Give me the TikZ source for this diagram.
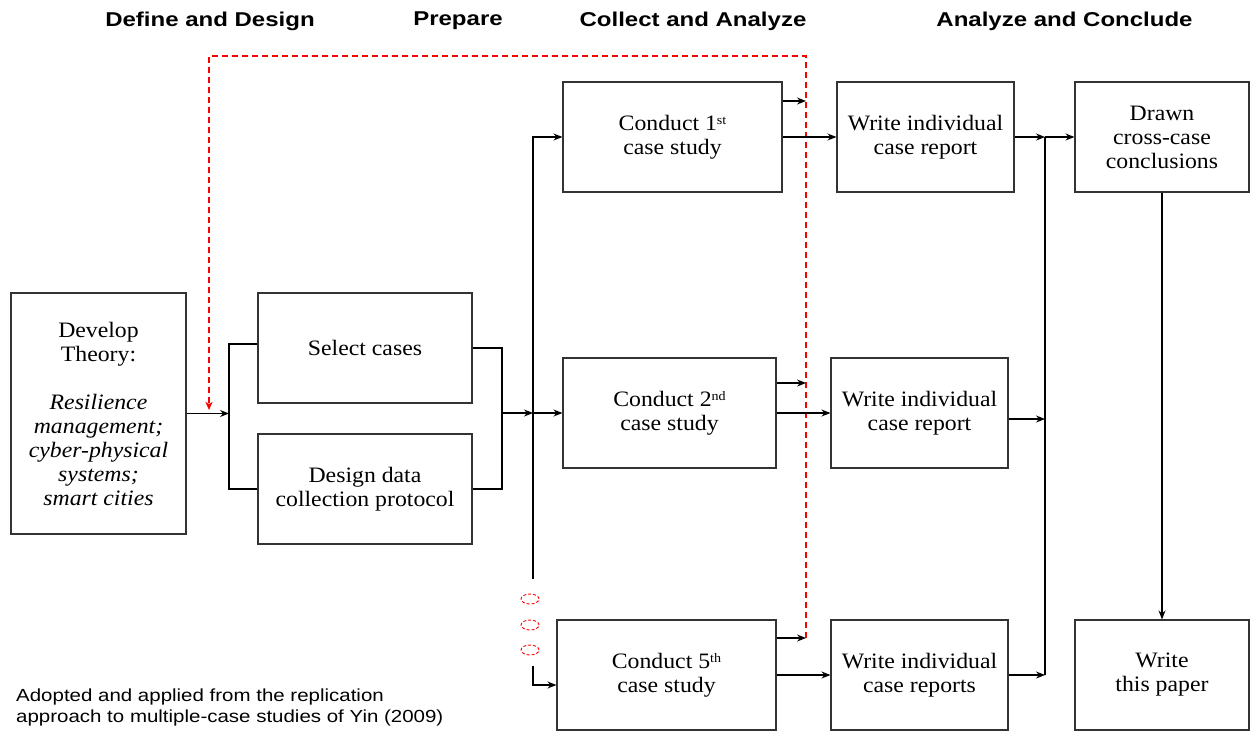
\documentclass[tikz,border=0pt]{standalone}
\usepackage{fontspec}
\setmainfont{Liberation Serif}[FakeStretch=1.08]
\newfontfamily\headfont{Liberation Sans}[FakeStretch=1.2]
\newfontfamily\footfont{Liberation Sans}[FakeStretch=1.17]
\usetikzlibrary{arrows.meta,shapes.geometric}
\newcommand{\supx}[1]{\raisebox{6pt}{\fontsize{13}{13}\selectfont #1}}
\tikzset{
  box/.style={draw=black!80, line width=1.1pt, align=center, inner sep=2pt,
    font=\fontsize{22}{24}\selectfont},
  conn/.style={line width=1.2pt, black},
  arr/.style={conn, -{Stealth[length=9pt,width=7pt,inset=3pt]}},
  reddash/.style={red, line width=1.6pt, dash pattern=on 6pt off 4pt},
  head/.style={font=\headfont\bfseries\fontsize{20}{22}\selectfont},
  dots/.style={ellipse, draw=red, dash pattern=on 3pt off 2pt, line width=0.9pt,
    minimum width=18pt, minimum height=10pt, inner sep=0pt}
}
\begin{document}
\begin{tikzpicture}[x=1pt,y=-1pt]
\useasboundingbox (0,0) rectangle (1250,731);
% headers
\node[head] (h1) at (210,21) {Define and Design};
\node[head] (h2) at (458,21) {Prepare};
\node[head] (h3) at (693,21) {Collect and Analyze};
\node[head] (h4) at (1064.5,21) {Analyze and Conclude};
% boxes
\node[box, minimum width=175pt, minimum height=241pt] (dev) at (98.5,413.5)
  {Develop\\Theory:\\[24pt]\textit{Resilience}\\\textit{management;}\\\textit{cyber-physical}\\\textit{systems;}\\\textit{smart cities}};
\node[box, minimum width=214pt, minimum height=110pt] (sel) at (365,348) {Select cases};
\node[box, minimum width=214pt, minimum height=110pt] (des) at (365,489) {Design data\\collection protocol};
\node[box, minimum width=219pt, minimum height=110pt] (c1) at (672.5,137) {Conduct 1\supx{st}\\case study};
\node[box, minimum width=213pt, minimum height=110pt] (c2) at (669.5,413) {Conduct 2\supx{nd}\\case study};
\node[box, minimum width=219pt, minimum height=110pt] (c5) at (666.5,675) {Conduct 5\supx{th}\\case study};
\node[box, minimum width=177pt, minimum height=110pt] (w1) at (925.5,137) {Write individual\\case report};
\node[box, minimum width=177pt, minimum height=110pt] (w2) at (919.5,413) {Write individual\\case report};
\node[box, minimum width=177pt, minimum height=110pt] (w5) at (919.5,675) {Write individual\\case reports};
\node[box, minimum width=174pt, minimum height=110pt] (dr) at (1162,137) {Drawn\\cross-case\\conclusions};
\node[box, minimum width=174pt, minimum height=110pt] (wp) at (1162,675) {Write\\this paper};
% footnote
\node[anchor=west, align=left, inner sep=0pt, font=\footfont\fontsize{17.5}{21}\selectfont] (fn) at (16,707.5)
  {Adopted and applied from the replication\\approach to multiple-case  studies of Yin (2009)};
% junctions
\coordinate (jL) at (229,413.5);
\coordinate (jR) at (502,413);
\coordinate (s2) at (533,413);
\coordinate (sEnd) at (533,579);
\coordinate (sLow) at (533,666);
\coordinate (q1) at (1045,137);
\coordinate (qB) at (1045,675);
\coordinate (rEnd) at (209,410);
\coordinate (rStart) at (806,638);
\coordinate (r1) at (806,101);
\coordinate (r2) at (806,383);
% ellipses
\node[dots] (e1) at (530,599) {};
\node[dots] (e2) at (530,625) {};
\node[dots] (e3) at (530,650) {};
% red dashed feedback
\draw[reddash, -{Stealth[length=8pt,width=7pt,inset=2pt]}] (rStart) |- (209,56) -- (rEnd);
% left bracket
\draw[arr] (dev.east |- jL) -- (jL);
\draw[conn] ([yshift=4pt]sel.west) -| (jL) |- (des.west);
% right bracket
\draw[conn] (sel.east) -| (jR) |- (des.east);
\draw[arr] (jR) -- (s2);
\draw[arr] (s2) -- (c2.west |- s2);
\draw[arr] (s2) |- (c1.west);
\draw[conn] (s2) -- (sEnd);
\draw[arr] (sLow) |- ([yshift=-10pt]c5.west);
% to red line
\draw[arr] (c1.east |- r1) -- (r1);
\draw[arr] (c2.east |- r2) -- (r2);
\draw[arr] (c5.east |- rStart) -- (rStart);
% to reports
\draw[arr] (c1.east) -- (w1.west);
\draw[arr] (c2.east) -- (w2.west);
\draw[arr] (c5.east) -- (w5.west);
% to conclusions
\draw[arr] (w1.east) -- (q1);
\draw[arr] (q1) -- (dr.west);
\draw[conn] (q1) -- (qB);
\draw[arr] ([yshift=-6pt]w2.east) -- ([yshift=-6pt]w2.east -| q1);
\draw[arr] (w5.east) -- (qB);
\draw[arr] (dr.south) -- (wp.north);
\end{tikzpicture}
\end{document}
